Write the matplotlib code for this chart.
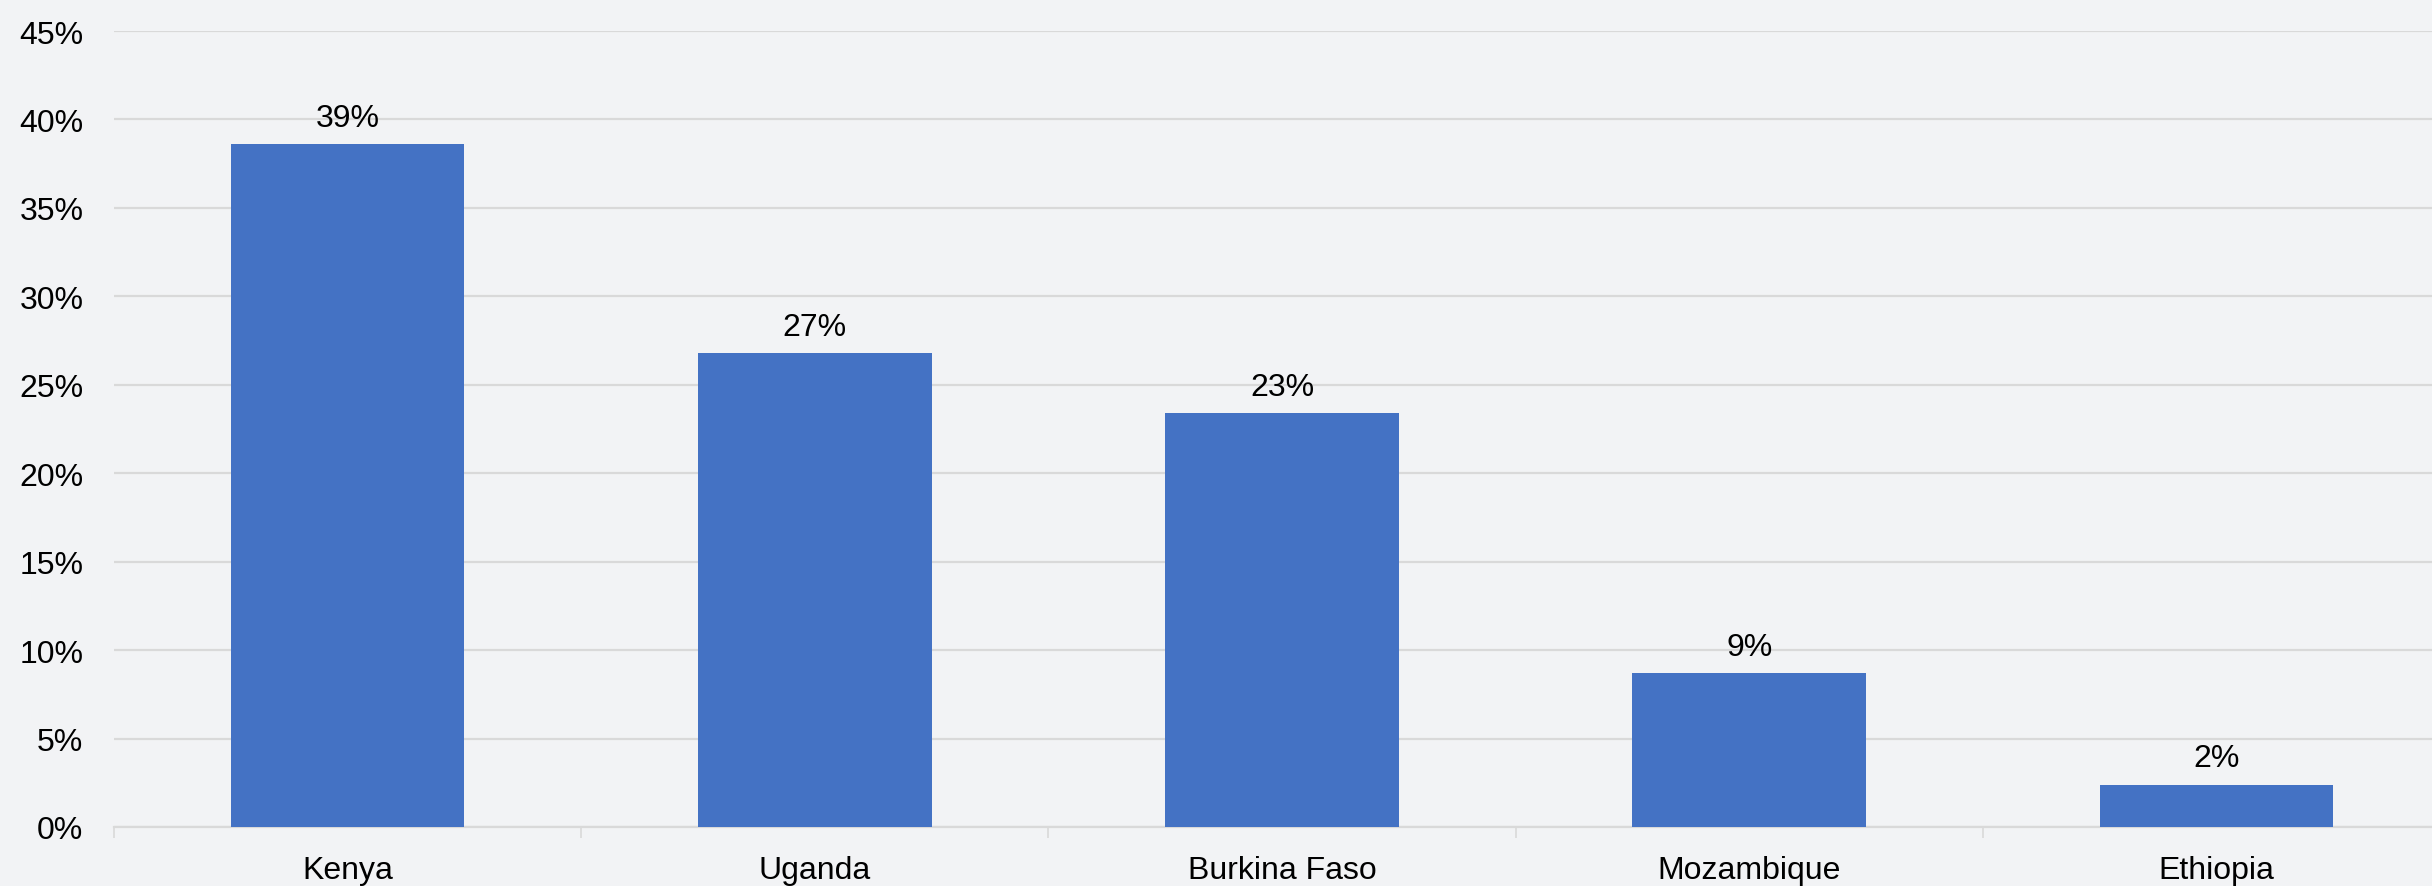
import numpy as np
import matplotlib
matplotlib.use('Agg')
import matplotlib.pyplot as plt
from matplotlib.ticker import PercentFormatter, FixedLocator

# data
countries = ['Kenya', 'Uganda', 'Burkina Faso', 'Mozambique', 'Ethiopia']
shares = [38.6, 26.8, 23.4, 8.7, 2.4]
share_labels = ['39%', '27%', '23%', '9%', '2%']
y_ticks = [0, 5, 10, 15, 20, 25, 30, 35, 40, 45]

BG = '#F2F3F5'
BAR = '#4472C4'
GRID = '#D9D9D9'
FS = 23

plt.rcParams['font.family'] = ['Liberation Sans', 'DejaVu Sans']

fig = plt.figure(figsize=(24.32, 8.87), dpi=100, facecolor=BG)
# plot area runs slightly past the right edge, as in the cropped original
ax = fig.add_axes([114 / 2432, 59 / 887, 2336 / 2432, 796 / 887])
ax.set_facecolor(BG)

x = np.arange(len(countries))
bars = ax.bar(x, shares, width=0.5, color=BAR, zorder=3)

for rect, lab in zip(bars, share_labels):
    ax.annotate(lab, (rect.get_x() + rect.get_width() / 2, rect.get_height()),
                xytext=(0, 8), textcoords='offset points',
                ha='center', va='bottom', fontsize=FS, color='black')

ax.set_xlim(-0.5, len(countries) - 0.5)
ax.set_ylim(0, 45)
ax.set_yticks(y_ticks)
ax.yaxis.set_major_formatter(PercentFormatter(decimals=0))
ax.grid(axis='y', color=GRID, linewidth=1.6, zorder=0)

ax.set_xticks(x)
ax.set_xticklabels(countries)
ax.xaxis.set_minor_locator(FixedLocator(np.arange(len(countries) + 1) - 0.5))
ax.tick_params(axis='x', which='major', length=0, pad=20, labelsize=FS)
ax.tick_params(axis='x', which='minor', length=8, width=1.2, color=GRID, direction='out')
ax.tick_params(axis='y', length=0, pad=22, labelsize=FS)

for side in ['top', 'right', 'left']:
    ax.spines[side].set_visible(False)
ax.spines['bottom'].set_color(GRID)
ax.spines['bottom'].set_linewidth(1.6)

fig.savefig('out.png', dpi=100, facecolor=BG)
